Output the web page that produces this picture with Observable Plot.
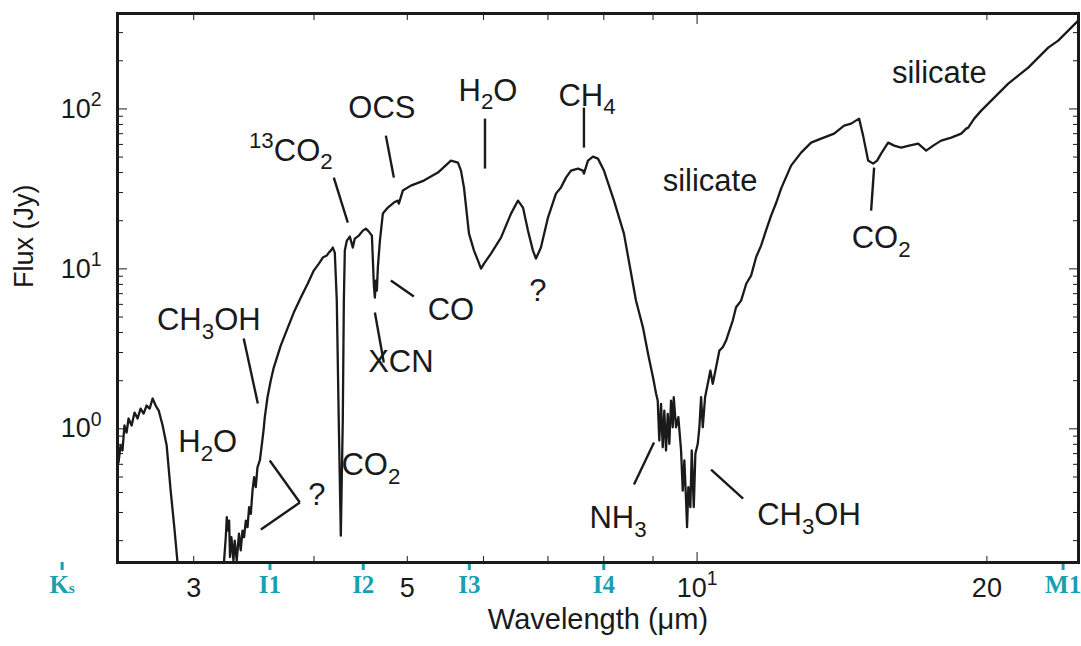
<!DOCTYPE html>
<html><head><meta charset="utf-8">
<script src="https://cdn.jsdelivr.net/npm/d3@7"></script>
<script src="https://cdn.jsdelivr.net/npm/@observablehq/plot@0.6"></script>
<style>
body{margin:0;background:#fff;}
#chart svg{font-family:"Liberation Sans",Arial,Helvetica,sans-serif;background:#fff;}
</style></head><body><div id="chart"></div>
<script>
// Spectrum: wavelength (μm) and flux (Jy); null marks the part that falls below the plot
const wavelength = [
2.506,2.518,2.530,2.542,2.555,2.567,2.586,2.604,2.623,2.642,2.661,2.680,2.700,2.719,2.739,2.759,2.785,2.812,2.839,2.866,2.886,2.907,
3.05,
3.215,3.226,3.239,3.247,3.257,3.265,3.272,3.283,3.299,3.309,3.325,3.343,3.357,3.371,3.384,3.398,3.412,3.425,3.439,3.453,3.466,3.480,3.494,3.514,3.528,3.545,3.556,3.579,3.607,3.633,3.694,3.757,3.811,3.876,3.941,3.998,4.047,4.085,4.124,4.144,4.164,4.184,4.204,4.224,4.244,4.265,4.285,4.296,4.306,4.327,4.358,4.389,4.410,4.453,4.496,4.528,4.561,4.594,4.605,4.616,4.627,4.638,4.649,4.660,4.683,4.716,4.773,4.842,4.889,4.900,4.947,5.043,5.202,5.380,5.550,5.644,5.685,5.726,5.795,5.865,5.921,5.964,6.007,6.108,6.256,6.408,6.516,6.594,6.673,6.753,6.802,6.883,7.000,7.135,7.221,7.308,7.396,7.521,7.611,7.629,7.703,7.795,7.889,8.003,8.197,8.395,8.640,8.786,8.892,9.000,9.065,
9.101,9.136,9.174,9.211,9.246,9.284,9.322,9.358,9.396,9.434,9.457,9.509,9.562,9.624,9.663,9.700,9.740,9.763,9.793,9.840,9.873,9.921,9.959,10.016,10.055,10.096,10.137,10.193,10.259,10.323,10.382,10.465,10.548,10.633,10.718,10.803,10.891,10.977,11.110,11.25,11.379,11.52,11.654,11.80,11.937,12.08,12.225,12.521,12.825,13.135,13.453,13.878,14.214,14.454,14.733,14.875,15.054,15.235,15.382,15.530,15.792,16.021,16.292,16.607,16.969,17.297,17.589,17.929,18.365,18.809,19.035,19.127,19.403,19.731,20.355,21.048,21.558,22.080,22.614,23.161,23.721,24.295,24.883
];
const flux = [
0.616,0.786,0.732,1.049,0.948,1.160,1.049,1.264,1.160,1.339,1.246,1.398,1.339,1.547,1.398,1.301,1.049,0.786,0.411,0.231,0.146,0.085,
null,
0.10,0.150,0.210,0.280,0.231,0.267,0.158,0.210,0.150,0.200,0.150,0.221,0.174,0.231,0.210,0.267,0.243,0.324,0.294,0.411,0.498,0.432,0.575,0.634,0.767,0.976,1.182,1.576,2.004,2.416,3.316,4.297,5.333,6.615,8.094,9.759,10.79,11.77,12.11,12.64,13.01,13.59,12.64,6.337,1.127,0.215,1.127,6.337,13.01,15.03,15.92,13.59,15.47,16.15,17.35,17.86,17.11,16.15,11.27,7.864,6.615,8.452,7.317,10.19,15.03,22.16,24.16,25.97,26.73,25.59,30.86,33.16,35.63,39.99,47.53,46.17,41.16,32.22,16.62,13.01,11.27,10.04,10.79,12.46,15.69,22.16,26.73,24.16,17.35,13.01,11.60,13.59,20.92,29.55,32.22,37.20,41.16,42.37,41.16,39.40,47.53,50.33,48.90,41.16,26.73,16.62,6.337,4.297,2.955,2.092,1.662,
1.503,0.845,1.433,0.767,1.301,0.732,1.241,0.806,1.503,1.023,1.576,1.023,1.182,0.732,0.411,0.634,0.356,0.243,0.432,0.324,0.732,0.324,0.698,0.806,1.023,1.576,1.023,1.576,1.911,2.314,1.911,2.427,3.086,3.236,3.564,4.115,4.753,5.754,6.337,8.1,9.08,11.9,13.98,17.6,21.54,25.8,31.76,44.23,53.33,61.55,65.20,70.08,78.63,80.93,86.98,68.09,47.53,45.51,47.53,52.56,61.55,58.97,57.30,58.97,60.69,54.89,58.97,63.38,66.17,70.08,75.33,76.42,86.98,97.59,117.6,143.9,161.5,181.2,209.3,241.6,267.3,308.6,356.3
];

// Axis ticks
const xMinorTicks = [3,4,5,6,7,8,9,20];
const xMajorTicks = [10];
const xLabelTicks = [3,5,10,20];
const xLabelText = ["3","5","10¹","20"];
const yMajorTicks = [1,10,100];
const yLabelText = ["10⁰","10¹","10²"];
const yMinorTicks = [0.2,0.3,0.4,0.5,0.6,0.7,0.8,0.9,2,3,4,5,6,7,8,9,20,30,40,50,60,70,80,90,200,300];

// Photometric bands shown under the axis
const bandNames = ["Kₛ","I1","I2","I3","I4","M1"];
const bandWavelengths = [2.19,3.6,4.5,5.8,8.0,24];

// Feature labels (wavelength, flux position)
const labelText = ["silicate","silicate","CO₂","H₂O","CH₄","OCS","¹³CO₂","CO","XCN","?","CH₃OH","H₂O","?","CO₂","NH₃","CH₃OH"];
const labelX = [17.85,10.315,15.53,6.064,7.685,4.705,3.784,5.550,4.924,6.834,3.110,3.102,4.027,4.583,8.276,13.07];
const labelY = [168.6,35.63,15.47,130.1,121.1,101.9,54.89,5.489,2.597,7.317,4.753,0.821,0.383,0.590,0.275,0.287];

// Leader lines
const leaderX1 = [3.381,4.194,4.750,4.807,4.627,6.021,7.629,15.272,9.021,10.340,3.598,3.867];
const leaderY1 = [3.667,37.20,68.09,8.452,5.333,86.98,101.9,42.98,0.821,0.5567,0.6337,0.3463];
const leaderX2 = [3.497,4.337,4.842,5.079,4.727,6.021,7.629,15.163,8.599,11.163,3.867,3.523];
const leaderY2 = [1.439,19.47,37.20,6.713,2.597,42.37,57.30,23.14,0.4486,0.3667,0.3463,0.2348];

const spectrum = wavelength.map((w, i) => ({w, f: flux[i]}));
const labels = labelText.map((t, i) => ({t, x: labelX[i], y: labelY[i]}));
const leaders = leaderX1.map((x1, i) => ({x1, y1: leaderY1[i], x2: leaderX2[i], y2: leaderY2[i]}));
const bandName = new Map(bandWavelengths.map((w, i) => [w, bandNames[i]]));
const xLabel = new Map(xLabelTicks.map((v, i) => [v, xLabelText[i]]));
const yLabel = new Map(yMajorTicks.map((v, i) => [v, yLabelText[i]]));

const ink = "#1a1a1a";
const teal = "#1a9fb2";
const blank = () => "";

const chart = Plot.plot({
  width: 1081, height: 646,
  marginLeft: 117, marginRight: 3, marginTop: 13, marginBottom: 84,
  x: {type: "log", domain: [2.5, 24.9], label: null},
  y: {type: "log", domain: [0.146, 395], label: null},
  marks: [
    Plot.line(spectrum, {x: "w", y: "f", stroke: ink, strokeWidth: 2.3, clip: true}),
    Plot.link(leaders, {x1: "x1", y1: "y1", x2: "x2", y2: "y2", stroke: ink, strokeWidth: 2.4}),
    Plot.text(labels, {x: "x", y: "y", text: "t", fontSize: 31, fill: ink}),
    // inward ticks on all four sides
    Plot.axisX(xMinorTicks, {anchor: "bottom", tickSize: 6, dy: -6, tickFormat: blank, label: null, stroke: ink}),
    Plot.axisX(xMajorTicks, {anchor: "bottom", tickSize: 10, dy: -10, tickFormat: blank, label: null, stroke: ink}),
    Plot.axisX(xMinorTicks, {anchor: "top", tickSize: 6, dy: 6, tickFormat: blank, label: null, stroke: ink}),
    Plot.axisX(xMajorTicks, {anchor: "top", tickSize: 10, dy: 10, tickFormat: blank, label: null, stroke: ink}),
    Plot.axisY(yMinorTicks, {anchor: "left", tickSize: 6, dx: 6, tickFormat: blank, label: null, stroke: ink}),
    Plot.axisY(yMajorTicks, {anchor: "left", tickSize: 10, dx: 10, tickFormat: blank, label: null, stroke: ink}),
    Plot.axisY(yMinorTicks, {anchor: "right", tickSize: 6, dx: -6, tickFormat: blank, label: null, stroke: ink}),
    Plot.axisY(yMajorTicks, {anchor: "right", tickSize: 10, dx: -10, tickFormat: blank, label: null, stroke: ink}),
    // tick labels
    Plot.axisX(xLabelTicks, {anchor: "bottom", tickSize: 0, tickPadding: 15, tickFormat: d => xLabel.get(d), label: null, fontSize: 27, fill: ink}),
    Plot.axisY(yMajorTicks, {anchor: "left", tickSize: 0, tickPadding: 16, tickFormat: d => yLabel.get(d), label: null, fontSize: 27, fill: ink}),
    // photometric bands
    Plot.axisX(bandWavelengths, {anchor: "bottom", tickSize: 8, tickPadding: 5, strokeWidth: 3, color: teal, tickFormat: d => bandName.get(d), label: null, fontSize: 25, fontFamily: "'Liberation Serif','DejaVu Serif',serif", fontWeight: "bold"}),
    Plot.frame({stroke: ink, strokeWidth: 3}),
    Plot.text(["Wavelength (μm)"], {frameAnchor: "bottom", dy: 66, text: d => d, fontSize: 29, fill: ink}),
    Plot.text(["Flux (Jy)"], {frameAnchor: "left", dx: -93, rotate: -90, text: d => d, fontSize: 27, fill: ink})
  ]
});
document.getElementById("chart").appendChild(chart);

// Render Unicode sub/superscripts as shifted, smaller tspans
const SUB = {"₀":"0","₁":"1","₂":"2","₃":"3","₄":"4"};
const SMALL = {"ₛ":"s"};
const SUP = {"⁰":"0","¹":"1","²":"2","³":"3"};
chart.querySelectorAll("text").forEach(el => {
  if (el.children.length) return;
  const chars = [...el.textContent];
  if (!chars.some(c => SUB[c] || SUP[c] || SMALL[c])) return;
  const fs = parseFloat(getComputedStyle(el).fontSize) || 20;
  el.textContent = "";
  let cur = 0;
  const runs = [];
  for (const c of chars) {
    const mode = SUB[c] ? 1 : SUP[c] ? -1 : SMALL[c] ? 2 : 0;
    const ch = SUB[c] || SUP[c] || SMALL[c] || c;
    if (runs.length && runs[runs.length - 1].mode === mode) runs[runs.length - 1].t += ch;
    else runs.push({mode, t: ch});
  }
  for (const r of runs) {
    const target = r.mode === 1 ? 0.28 * fs : r.mode === -1 ? -0.42 * fs : 0;
    const ts = document.createElementNS("http://www.w3.org/2000/svg", "tspan");
    ts.textContent = r.t;
    if (target !== cur) ts.setAttribute("dy", (target - cur).toFixed(2));
    if (r.mode !== 0) ts.setAttribute("font-size", (fs * (r.mode === 2 ? 0.62 : 0.72)).toFixed(1));
    cur = target;
    el.appendChild(ts);
  }
});
</script></body></html>
